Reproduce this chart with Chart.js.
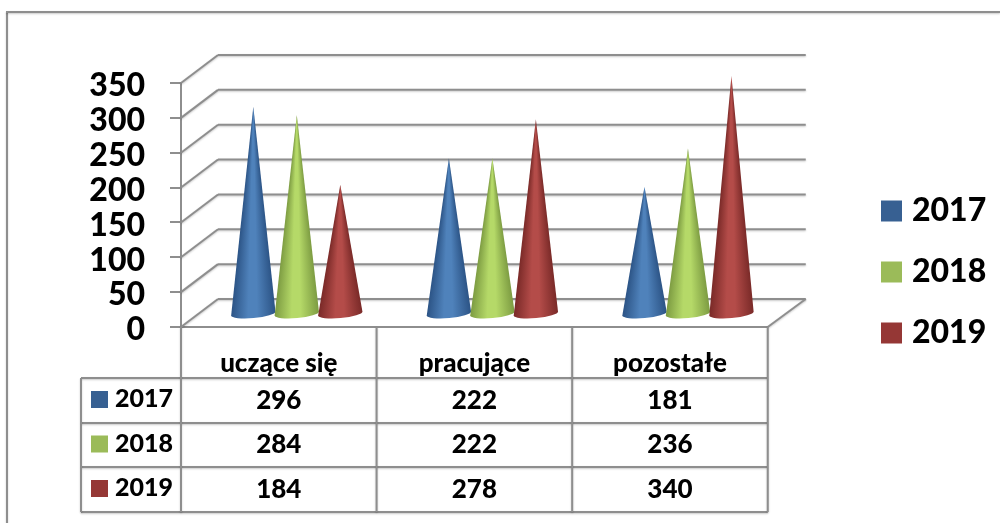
<!DOCTYPE html>
<html>
<head>
<meta charset="utf-8">
<style>
  html, body { margin: 0; padding: 0; background: #fff; }
  canvas { display: block; }
</style>
<script src="https://cdn.jsdelivr.net/npm/chart.js@4"></script>
</head>
<body>
<canvas id="chart" width="1000" height="523"></canvas>
<script>
const categories = ['uczące się', 'pracujące', 'pozostałe'];
const seriesNames = ['2017', '2018', '2019'];
const values2017 = [296, 222, 181];
const values2018 = [284, 222, 236];
const values2019 = [184, 278, 340];
const seriesColors = ['#376092', '#9bbb59', '#953735'];
const coneDark = ['#2c5486', '#7d9c42', '#7a2a28'];
const coneLight = ['#4f82bb', '#b5d968', '#b44c49'];

const lineColor = '#8e8e8e';
const fontName = 'Lato, "Open Sans", sans-serif';
const depthX = 37;
const depthY = -28;
const tableRows = [378, 423, 467, 512];
const tableLeft = 81;

function line(ctx, x1, y1, x2, y2) {
    ctx.beginPath();
    ctx.moveTo(x1, y1);
    ctx.lineTo(x2, y2);
    ctx.stroke();
}

function setLine(ctx, width) {
    ctx.strokeStyle = lineColor;
    ctx.lineWidth = width;
    ctx.shadowColor = 'rgba(0,0,0,0.22)';
    ctx.shadowBlur = 2;
    ctx.shadowOffsetY = 1;
}

function drawWalls(chart) {
    const ctx = chart.ctx;
    const y = chart.scales.y;
    const area = chart.chartArea;
    ctx.save();
    setLine(ctx, 2);
    // outer frame, it runs off the right and bottom of the picture
    line(ctx, 7, 523, 7, 12);
    line(ctx, 6, 12, 1000, 12);
    y.ticks.forEach(t => {
        const py = y.getPixelForValue(t.value);
        line(ctx, area.left, py, area.left + depthX, py + depthY);
        line(ctx, area.left + depthX, py + depthY, area.right + depthX + 1, py + depthY);
    });
    line(ctx, area.right, area.bottom, area.right + depthX + 1, area.bottom + depthY);
    ctx.restore();
}

function drawCone(ctx, el, index) {
    const rx = el.width / 2 + 0.5;
    const ry = 4.6;
    const tilt = -0.09;
    const cx = el.x + 18;
    const cy = el.base - 12.5;
    const apexX = cx;
    const apexY = el.y - 14;
    const leftX = cx - rx * Math.cos(tilt);
    const leftY = cy - rx * Math.sin(tilt);
    const rightX = cx + rx * Math.cos(tilt);
    const rightY = cy + rx * Math.sin(tilt);

    const angleR = Math.atan2(rightY - apexY, rightX - apexX);
    const angleL = Math.atan2(leftY - apexY, leftX - apexX);
    const span = (angleL - angleR) / (Math.PI * 2);
    const grad = ctx.createConicGradient(angleR, apexX, apexY);
    grad.addColorStop(0, coneDark[index]);
    grad.addColorStop(span * 0.42, coneLight[index]);
    grad.addColorStop(span * 0.62, coneLight[index]);
    grad.addColorStop(span, coneDark[index]);

    ctx.beginPath();
    ctx.moveTo(apexX, apexY);
    ctx.lineTo(leftX, leftY);
    ctx.ellipse(cx, cy, rx, ry, tilt, Math.PI, 0, true);
    ctx.closePath();
    ctx.fillStyle = grad;
    ctx.fill();
}

function drawTable(chart) {
    const ctx = chart.ctx;
    const x = chart.scales.x;
    const area = chart.chartArea;
    const step = (area.right - area.left) / categories.length;
    const rows = [values2017, values2018, values2019];

    ctx.save();
    setLine(ctx, 2);
    tableRows.forEach(r => line(ctx, tableLeft, r, area.right, r));
    line(ctx, tableLeft, tableRows[0], tableLeft, tableRows[3]);
    for (let i = 0; i <= categories.length; i++) {
        const px = area.left + step * i;
        line(ctx, px, area.bottom, px, tableRows[3]);
    }
    ctx.restore();

    ctx.save();
    ctx.fillStyle = '#000';
    ctx.textBaseline = 'middle';
    rows.forEach((row, r) => {
        const mid = (tableRows[r] + tableRows[r + 1]) / 2 - 0.5;
        ctx.fillStyle = seriesColors[r];
        ctx.fillRect(91, mid - 9, 17, 17);
        ctx.fillStyle = '#000';
        ctx.textAlign = 'left';
        ctx.font = '900 25px ' + fontName;
        ctx.fillText(seriesNames[r], 115, mid - 1);
        ctx.textAlign = 'center';
        ctx.font = '900 26px ' + fontName;
        row.forEach((v, c) => ctx.fillText(String(v), x.getPixelForTick(c), mid + 0.5));
    });
    ctx.restore();
}

const conePlugin = {
    id: 'cones',
    afterLayout(chart) {
        // legend sits well right of where the layout would put it
        const legend = chart.legend;
        legend.left = 858;
        legend.right = 1000;
        legend.top = 195 - legend.options.labels.padding;
        legend.bottom = 523;
        legend.options.align = 'start';
    },
    beforeDatasetsDraw(chart) {
        drawWalls(chart);
        // cones left to right so each one overlaps the previous base
        for (let c = 0; c < categories.length; c++) {
            chart.data.datasets.forEach((ds, i) => {
                drawCone(chart.ctx, chart.getDatasetMeta(i).data[c], i);
            });
        }
        return false;
    },
    afterDraw(chart) {
        drawTable(chart);
    }
};

new Chart(document.getElementById('chart'), {
    type: 'bar',
    data: {
        labels: categories,
        datasets: [
            { label: seriesNames[0], data: values2017, backgroundColor: seriesColors[0] },
            { label: seriesNames[1], data: values2018, backgroundColor: seriesColors[1] },
            { label: seriesNames[2], data: values2019, backgroundColor: seriesColors[2] }
        ]
    },
    options: {
        responsive: false,
        animation: false,
        categoryPercentage: 0.667,
        barPercentage: 1,
        layout: { padding: { top: 83, right: 94, bottom: 0, left: 0 } },
        plugins: {
            tooltip: { enabled: false },
            legend: {
                position: 'right',
                labels: {
                    // small box with a thick border of its own colour: keeps the text close to the square
                    boxWidth: 9,
                    boxHeight: 9,
                    padding: 29,
                    color: '#000',
                    font: { family: fontName, size: 32, weight: '900' },
                    generateLabels(chart) {
                        return Chart.defaults.plugins.legend.labels.generateLabels(chart).map(item => {
                            item.strokeStyle = item.fillStyle;
                            item.lineWidth = 12;
                            return item;
                        });
                    }
                }
            }
        },
        scales: {
            x: {
                afterFit(scale) { scale.height = 196; },
                grid: { display: false },
                border: { color: lineColor, width: 2 },
                ticks: {
                    padding: 13,
                    color: '#000',
                    maxRotation: 0,
                    font: { family: fontName, size: 26, weight: '900' }
                }
            },
            y: {
                min: 0,
                max: 350,
                afterFit(scale) { scale.width = 181; },
                grid: { drawOnChartArea: false, tickLength: 11, color: lineColor, lineWidth: 2 },
                border: { color: lineColor, width: 2 },
                ticks: {
                    stepSize: 50,
                    autoSkip: false,
                    padding: 25,
                    labelOffset: 3,
                    color: '#000',
                    font: { family: fontName, size: 32, weight: '900' }
                }
            }
        }
    },
    plugins: [conePlugin]
});
</script>
</body>
</html>
